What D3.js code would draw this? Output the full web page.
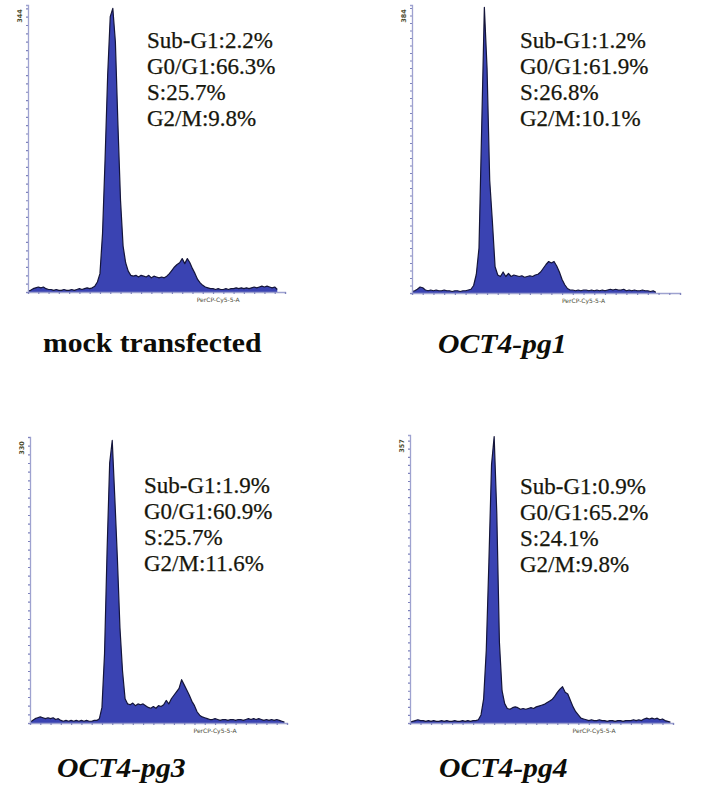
<!DOCTYPE html>
<html>
<head>
<meta charset="utf-8">
<script src="https://cdn.jsdelivr.net/npm/d3@7"></script>
<style>
  html, body { margin: 0; padding: 0; background: #fff; }
  svg { display: block; }
</style>
</head>
<body>
<svg id="chart" width="708" height="786"></svg>
<script>
// ---------------- DATA ----------------
const categories = ["mock transfected", "OCT4-pg1", "OCT4-pg3", "OCT4-pg4"];
const yMaxLabels = [344, 384, 330, 357];
const xAxisLabel = "PerCP-Cy5-5-A";
const statNames = ["Sub-G1", "G0/G1", "S", "G2/M"];
const subG1 = [2.2, 1.2, 1.9, 0.9];
const g0g1 = [66.3, 61.9, 60.9, 65.2];
const sPhase = [25.7, 26.8, 25.7, 24.1];
const g2m = [9.8, 10.1, 11.6, 9.8];

// histogram counts per channel bin
const countsMock = [1,2,4,5,6,5,6,4,3,3,2,3,2,2,3,2,2,3,2,3,4,3,4,5,4,5,7,12,22,70,
  160,260,330,340,300,200,110,55,35,25,20,19,20,18,20,19,18,20,17,19,18,17,18,17,19,22,26,30,33,35,
  40,34,40,35,28,22,15,11,8,6,5,4,4,3,4,3,3,4,3,4,4,5,4,5,4,5,4,5,6,5,
  6,7,6,7,6,5,6,3];
const countsPg1 = [2,3,5,8,7,4,3,4,3,4,3,3,4,3,3,2,3,3,2,3,3,4,5,10,25,60,220,381,300,150,
  95,35,24,22,28,22,26,22,24,23,22,23,21,22,23,22,24,25,28,33,38,42,40,42,36,28,18,11,6,4,
  4,3,4,3,4,4,3,4,3,4,3,4,3,4,5,4,5,4,4,5,3,4,3,4,3,3,4,3,3,2,3,1];
const countsPg3 = [1,3,5,6,7,6,5,6,5,6,4,5,3,2,3,2,3,2,3,2,3,2,3,2,2,3,3,5,18,80,
  200,300,326,260,190,110,60,28,22,21,23,20,22,21,22,20,18,17,19,17,20,19,21,26,22,28,32,36,40,50,
  44,38,32,25,20,13,9,7,6,5,4,4,5,4,3,4,4,3,4,4,3,4,4,3,4,5,4,5,4,5,
  4,3,4,3,4,3,4,3,2,1];
const countsPg4 = [1,2,3,4,3,3,2,3,2,3,2,2,3,2,3,2,2,3,2,2,3,2,3,2,3,3,4,10,30,90,
  200,320,355,260,100,40,24,18,17,19,20,19,17,18,17,18,19,18,20,21,22,23,25,27,29,33,38,42,45,38,
  36,28,20,14,10,6,5,4,3,4,3,3,4,3,3,2,3,3,2,3,3,2,3,3,3,4,3,4,3,5,
  6,5,6,5,6,4,5,3,2,1];
const allCounts = [countsMock, countsPg1, countsPg3, countsPg4];

// ---------------- LAYOUT ----------------
const layout = [
  {x0: 28,  x1: 285, top: 5,   base: 292, textX: 147, textY: 48,  labX: 43,  labY: 352, xlabFrac: 0.74, italic: false},
  {x0: 412, x1: 680, top: 5,   base: 293, textX: 520, textY: 48,  labX: 438, labY: 353, xlabFrac: 0.64, italic: true},
  {x0: 30,  x1: 287, top: 437, base: 723, textX: 144, textY: 493, labX: 57,  labY: 777, xlabFrac: 0.72, italic: true},
  {x0: 410, x1: 673, top: 435, base: 723, textX: 520, textY: 494, labX: 439, labY: 777, xlabFrac: 0.70, italic: true}
];

const svg = d3.select("#chart");
const serif = "'Liberation Serif', 'Times New Roman', serif";
const axisColor = "#9ea2d0";

categories.forEach((cat, p) => {
  const L = layout[p];
  const data = allCounts[p];
  const g = svg.append("g");

  const x = d3.scaleLinear().domain([0, 100]).range([L.x0, L.x1]);
  const y = d3.scaleLinear().domain([0, yMaxLabels[p]]).range([L.base, L.top]);

  const area = d3.area()
    .x((d, i) => x(i))
    .y0(y(0))
    .y1(d => y(d));
  const line = d3.line()
    .x((d, i) => x(i))
    .y(d => y(d));

  g.append("path")
    .datum(data)
    .attr("d", area)
    .attr("fill", "#3a43b2");
  g.append("path")
    .datum(data)
    .attr("d", line)
    .attr("fill", "none")
    .attr("stroke", "#14153a")
    .attr("stroke-width", 1.2)
    .attr("stroke-linejoin", "round");

  // y axis
  const yAxis = d3.axisLeft(y)
    .tickValues(d3.range(0, yMaxLabels[p] + 1, 10))
    .tickSize(2)
    .tickFormat("");
  const ya = g.append("g")
    .attr("transform", `translate(${L.x0},0)`)
    .call(yAxis);
  ya.select(".domain").attr("stroke", axisColor).attr("stroke-width", 1.3);
  ya.selectAll(".tick line").attr("stroke", "#7f83bd").attr("stroke-width", 1.2);

  // x axis
  const xAxis = d3.axisBottom(x)
    .tickValues(d3.range(0, 101, 4))
    .tickSize(2)
    .tickFormat("");
  const xa = g.append("g")
    .attr("transform", `translate(0,${L.base})`)
    .call(xAxis);
  xa.select(".domain").attr("stroke", axisColor).attr("stroke-width", 1.3);
  xa.selectAll(".tick line").attr("stroke", "#7f83bd").attr("stroke-width", 1.2);

  // y max label
  g.append("text")
    .attr("transform", `translate(${L.x0 - 6},${L.top + 11}) rotate(-90)`)
    .attr("text-anchor", "middle")
    .attr("font-family", "'DejaVu Sans', sans-serif")
    .attr("font-size", 6.5)
    .attr("font-weight", "bold")
    .attr("fill", "#4d4d2e")
    .text(yMaxLabels[p]);

  // x axis label
  g.append("text")
    .attr("x", L.x0 + (L.x1 - L.x0) * L.xlabFrac)
    .attr("y", L.base + 10)
    .attr("text-anchor", "middle")
    .attr("font-family", "'DejaVu Sans', sans-serif")
    .attr("font-size", 6)
    .attr("fill", "#4d4d3a")
    .text(xAxisLabel);

  // stats text
  const vals = [subG1[p], g0g1[p], sPhase[p], g2m[p]];
  statNames.forEach((nm, k) => {
    g.append("text")
      .attr("x", L.textX)
      .attr("y", L.textY + k * 26)
      .attr("font-family", serif)
      .attr("font-size", 23)
      .attr("fill", "#16160c")
      .attr("stroke", "#16160c")
      .attr("stroke-width", 0.25)
      .text(`${nm}:${vals[k].toFixed(1)}%`);
  });

  // panel label
  g.append("text")
    .attr("transform", `translate(${L.labX},${L.labY}) scale(1.1,1)`)
    .attr("font-family", serif)
    .attr("font-size", 27)
    .attr("font-weight", "bold")
    .attr("font-style", L.italic ? "italic" : "normal")
    .attr("fill", "#0d0d08")
    .text(cat);
});
</script>
</body>
</html>
